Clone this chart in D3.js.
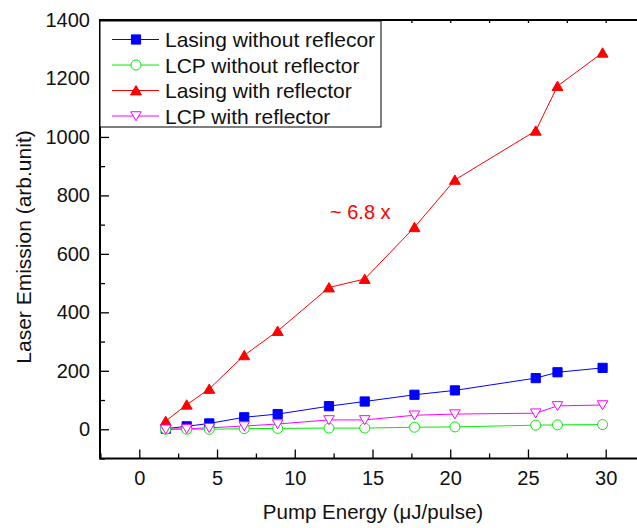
<!DOCTYPE html>
<html>
<head>
<meta charset="utf-8">
<script src="https://cdn.jsdelivr.net/npm/d3@7"></script>
<style>
  body { margin: 0; background: #fff; }
  svg { display: block; font-family: "Liberation Sans", Arial, sans-serif; }
</style>
</head>
<body>
<script>
// pump energy (uJ/pulse)
const pumpEnergy = [1.7, 3.05, 4.5, 6.75, 8.9, 12.2, 14.5, 17.7, 20.3, 25.5, 26.9, 29.8];
// laser emission (arb.unit)
const lasingNoRefl = [2, 10, 20, 41, 52, 79, 95, 118, 133, 175, 195, 210];
const lcpNoRefl    = [0, 0, 0, 2, 3, 4, 4, 7, 8, 14, 15, 16];
const lasingRefl   = [28, 84, 138, 253, 336, 485, 514, 691, 853, 1021, 1174, 1288];
const lcpRefl      = [0, 2, 5, 11, 18, 32, 32, 48, 52, 55, 80, 83];

const seriesNames = ["Lasing without reflecor", "LCP without reflector", "Lasing with reflector", "LCP with reflector"];
const xTicks = [0, 5, 10, 15, 20, 25, 30];
const yTicks = [0, 200, 400, 600, 800, 1000, 1200, 1400];

const W = 637, H = 528;
const box = {left: 100, top: 20, right: 637, bottom: 458.5};

const x = d3.scaleLinear().domain([0, 30]).range([139.3, 605.7]);
const y = d3.scaleLinear().domain([-100, 1400]).range([box.bottom, box.top]);

const svg = d3.select("body").append("svg")
    .attr("width", W)
    .attr("height", H);

// marker shapes
const markers = {
    square: s => `M${-s},${-s}H${s}V${s}H${-s}Z`,
    circle: s => d3.symbol(d3.symbolCircle, Math.PI * s * s)(),
    up: s => `M0,${-s * 0.95}L${s * 1.05},${s * 0.85}L${-s * 1.05},${s * 0.85}Z`,
    down: s => `M0,${s * 0.95}L${s * 1.05},${-s * 0.85}L${-s * 1.05},${-s * 0.85}Z`
};

const series = [
    {name: seriesNames[0], values: lasingNoRefl, color: "#0000ff", shape: "square", size: 4.6, fill: "#0000ff"},
    {name: seriesNames[1], values: lcpNoRefl, color: "#00ee00", shape: "circle", size: 5, fill: "#fff"},
    {name: seriesNames[2], values: lasingRefl, color: "#ff0000", shape: "up", size: 5.2, fill: "#ff0000"},
    {name: seriesNames[3], values: lcpRefl, color: "#ff00ff", shape: "down", size: 5, fill: "#fff"}
];

// axes (ticks inside)
const xAxis = svg.append("g")
    .attr("transform", `translate(0,${box.bottom})`)
    .call(d3.axisBottom(x).tickValues(xTicks).tickSizeInner(-9).tickSizeOuter(0).tickPadding(12));
svg.append("g")
    .attr("transform", `translate(0,${box.bottom})`)
    .call(d3.axisBottom(x).tickValues(d3.range(-2.5, 32.5, 2.5).filter(v => v % 5 !== 0)).tickSizeInner(-5).tickSizeOuter(0).tickFormat(""))
    .call(g => g.select(".domain").remove());

const yAxis = svg.append("g")
    .attr("transform", `translate(${box.left},0)`)
    .call(d3.axisLeft(y).tickValues(yTicks).tickFormat(d3.format("d")).tickSizeInner(-9).tickSizeOuter(0).tickPadding(10));
svg.append("g")
    .attr("transform", `translate(${box.left},0)`)
    .call(d3.axisLeft(y).tickValues(d3.range(-100, 1400, 200)).tickSizeInner(-5).tickSizeOuter(0).tickFormat(""))
    .call(g => g.select(".domain").remove());

// top axis: small ticks only
svg.append("g")
    .attr("transform", `translate(0,${box.top})`)
    .call(d3.axisTop(x).tickValues(d3.range(-2.5, 32.5, 2.5)).tickSizeInner(-3).tickSizeOuter(0).tickFormat(""))
    .call(g => g.select(".domain").remove());

svg.selectAll(".tick line").attr("stroke", "#000").attr("stroke-width", 1.3);
[xAxis, yAxis].forEach(g => {
    g.select(".domain").remove();
    g.selectAll("text").attr("font-size", 20).attr("fill", "#111").attr("font-family", "Liberation Sans, Arial, sans-serif");
});

// frame lines
svg.append("path")
    .attr("d", `M${box.right},${box.top}H${box.left}V${box.bottom}H${box.right}`)
    .attr("fill", "none")
    .attr("stroke", "#000")
    .attr("stroke-width", 2);

// series lines and markers
const line = d3.line()
    .x((d, i) => x(pumpEnergy[i]))
    .y(d => y(d));

series.forEach(s => {
    svg.append("path")
        .attr("d", line(s.values))
        .attr("fill", "none")
        .attr("stroke", s.color)
        .attr("stroke-width", 1);
});
series.forEach(s => {
    svg.selectAll(null)
        .data(s.values)
        .enter()
        .append("path")
          .attr("d", markers[s.shape](s.size))
          .attr("transform", (d, i) => `translate(${x(pumpEnergy[i])},${y(d)})`)
          .attr("fill", s.fill)
          .attr("stroke", s.color)
          .attr("stroke-width", 1);
});

// annotation
svg.append("text")
    .attr("x", x(12.2) + 1)
    .attr("y", 219)
    .attr("font-size", 20)
    .attr("fill", "#ff0000")
    .attr("text-anchor", "start")
    .text("~ 6.8 x");

// legend
const legend = svg.append("g");
legend.append("rect")
    .attr("x", box.left)
    .attr("y", box.top + 1)
    .attr("width", 281)
    .attr("height", 106)
    .attr("fill", "#fff")
    .attr("stroke", "#000")
    .attr("stroke-width", 1);
series.forEach((s, i) => {
    const cy = 39.5 + i * 25.5;
    legend.append("line")
        .attr("x1", 112).attr("x2", 159)
        .attr("y1", cy).attr("y2", cy)
        .attr("stroke", s.color)
        .attr("stroke-width", 1);
    legend.append("path")
        .attr("d", markers[s.shape](s.size))
        .attr("transform", `translate(136,${cy})`)
        .attr("fill", s.fill)
        .attr("stroke", s.color);
    legend.append("text")
        .attr("x", 165)
        .attr("y", cy + 7.5)
        .attr("font-size", 21)
        .attr("fill", "#111")
        .text(s.name);
});

// axis titles
svg.append("text")
    .attr("x", 373)
    .attr("y", 519)
    .attr("text-anchor", "middle")
    .attr("font-size", 20.5)
    .attr("fill", "#111")
    .text("Pump Energy (\u03BCJ/pulse)");

svg.append("text")
    .attr("transform", "translate(31,247) rotate(-90)")
    .attr("text-anchor", "middle")
    .attr("font-size", 21)
    .attr("fill", "#111")
    .text("Laser Emission (arb.unit)");
</script>
</body>
</html>
